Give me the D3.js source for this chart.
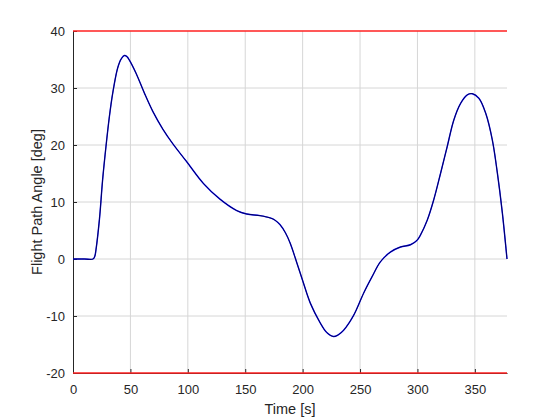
<!DOCTYPE html>
<html>
<head>
<meta charset="utf-8">
<script src="https://cdn.jsdelivr.net/npm/d3@7"></script>
<style>
    body { margin: 0; background: #fff; }
    text { font-family: Arial, "Liberation Sans", Helvetica, sans-serif; fill: #262626; }
</style>
</head>
<body>
<div id="chart"></div>
<script>
(function(){
    "use strict";

    //==========================================================================================
    // Data
    //==========================================================================================
    var time = [0, 10, 17.5, 19, 20, 23, 25.8, 28.7, 31.7, 34.6, 38.9, 42, 44.8, 47, 49.1, 54.9,
        62.2, 69.5, 78.2, 87, 98.9, 113.4, 128, 142.6, 151.3, 162.9, 171.7, 176, 180.4, 185, 189.1,
        195, 200.7, 206.6, 215.3, 221, 226.9, 231, 235.7, 244.4, 253.1, 260.5, 267.7, 276.4,
        285.2, 293.9, 299.7, 302.6, 308.5, 314.2, 320.1, 325.9, 331.7, 337.6, 343.4, 347.8,
        353.5, 359.4, 365.2, 369.6, 374, 378];
    var angle = [0, 0, 0, 0.5, 1.6, 6.9, 13.9, 19.7, 25, 29.1, 33.5, 35.1, 35.7, 35.5, 34.9, 32.6,
        29.1, 25.9, 22.8, 20.2, 17.1, 13.3, 10.5, 8.5, 7.9, 7.6, 7.2, 6.8, 6.0, 4.6, 2.8,
        -0.7, -4.2, -7.7, -11.2, -12.9, -13.6, -13.3, -12.5, -9.9, -6.0, -3.1, -0.5, 1.2,
        2.1, 2.5, 3.3, 4.2, 6.8, 10.4, 15, 19.7, 24.4, 27.3, 28.8, 29,
        28.2, 25.6, 20.9, 15.1, 8, 0];
    var xTicks = [0, 50, 100, 150, 200, 250, 300, 350];
    var yTicks = [-20, -10, 0, 10, 20, 30, 40];
    var limits = [40, -20];

    //==========================================================================================
    // Chart
    //==========================================================================================
    var width = 560, height = 420;
    var margin = {top: 31, right: 53, bottom: 47, left: 73};

    var svg = d3.select("#chart").append("svg")
        .attr("width", width)
        .attr("height", height);

    var x = d3.scaleLinear().domain([0, 378]).range([margin.left, width - margin.right]);
    var y = d3.scaleLinear().domain([-20, 40]).range([height - margin.bottom, margin.top]);

    // grid
    svg.append("g").selectAll("line.gx")
        .data(xTicks.slice(1))
        .enter().append("line")
        .attr("x1", function(d) { return x(d); })
        .attr("x2", function(d) { return x(d); })
        .attr("y1", y(-20)).attr("y2", y(40))
        .attr("stroke", "#d6d6d6").attr("stroke-width", 1);

    svg.append("g").selectAll("line.gy")
        .data(yTicks.slice(1, -1))
        .enter().append("line")
        .attr("x1", x(0)).attr("x2", x(378))
        .attr("y1", function(d) { return y(d); })
        .attr("y2", function(d) { return y(d); })
        .attr("stroke", "#d6d6d6").attr("stroke-width", 1);

    // axes (ticks inside, MATLAB style)
    var xAxis = svg.append("g")
        .attr("transform", "translate(0," + y(-20) + ")")
        .call(d3.axisBottom(x).tickValues(xTicks).tickSizeInner(-4).tickSizeOuter(0).tickPadding(12));
    var yAxis = svg.append("g")
        .attr("transform", "translate(" + x(0) + ",0)")
        .call(d3.axisLeft(y).tickValues(yTicks).tickSizeInner(-4).tickSizeOuter(0).tickPadding(8));

    [xAxis, yAxis].forEach(function(ax) {
        ax.select(".domain").attr("stroke", "#262626");
        ax.selectAll(".tick line").attr("stroke", "#262626");
        ax.selectAll(".tick text").attr("font-size", 13).style("fill", "#262626")
            .attr("font-family", "Arial, 'Liberation Sans', sans-serif");
    });
    yAxis.selectAll(".tick text").text(function(d) { return d; });

    // limit lines
    svg.append("g").selectAll("line.lim")
        .data(limits)
        .enter().append("line")
        .attr("x1", x(0)).attr("x2", x(378))
        .attr("y1", function(d) { return y(d); })
        .attr("y2", function(d) { return y(d); })
        .attr("stroke", "#ff2020").attr("stroke-width", 1.5);

    // curve
    var pts = time.map(function(t, i) { return [t, angle[i]]; });
    var line = d3.line()
        .x(function(d) { return x(d[0]); })
        .y(function(d) { return y(d[1]); })
        .curve(d3.curveCatmullRom.alpha(0.5));

    svg.append("path").datum(pts)
        .attr("d", line)
        .attr("fill", "none").attr("stroke", "#0000ff").attr("stroke-width", 1.4);
    svg.append("path").datum(pts)
        .attr("d", line)
        .attr("fill", "none").attr("stroke", "#000000").attr("stroke-width", 0.8)
        .attr("stroke-opacity", 0.8);

    // labels
    svg.append("text")
        .attr("x", (x(0) + x(378)) / 2)
        .attr("y", 414)
        .attr("text-anchor", "middle")
        .attr("font-size", 14.5)
        .text("Time [s]");

    svg.append("text")
        .attr("transform", "translate(42," + ((y(-20) + y(40)) / 2) + ") rotate(-90)")
        .attr("text-anchor", "middle")
        .attr("font-size", 14.5)
        .text("Flight Path Angle [deg]");
})();
</script>
</body>
</html>
